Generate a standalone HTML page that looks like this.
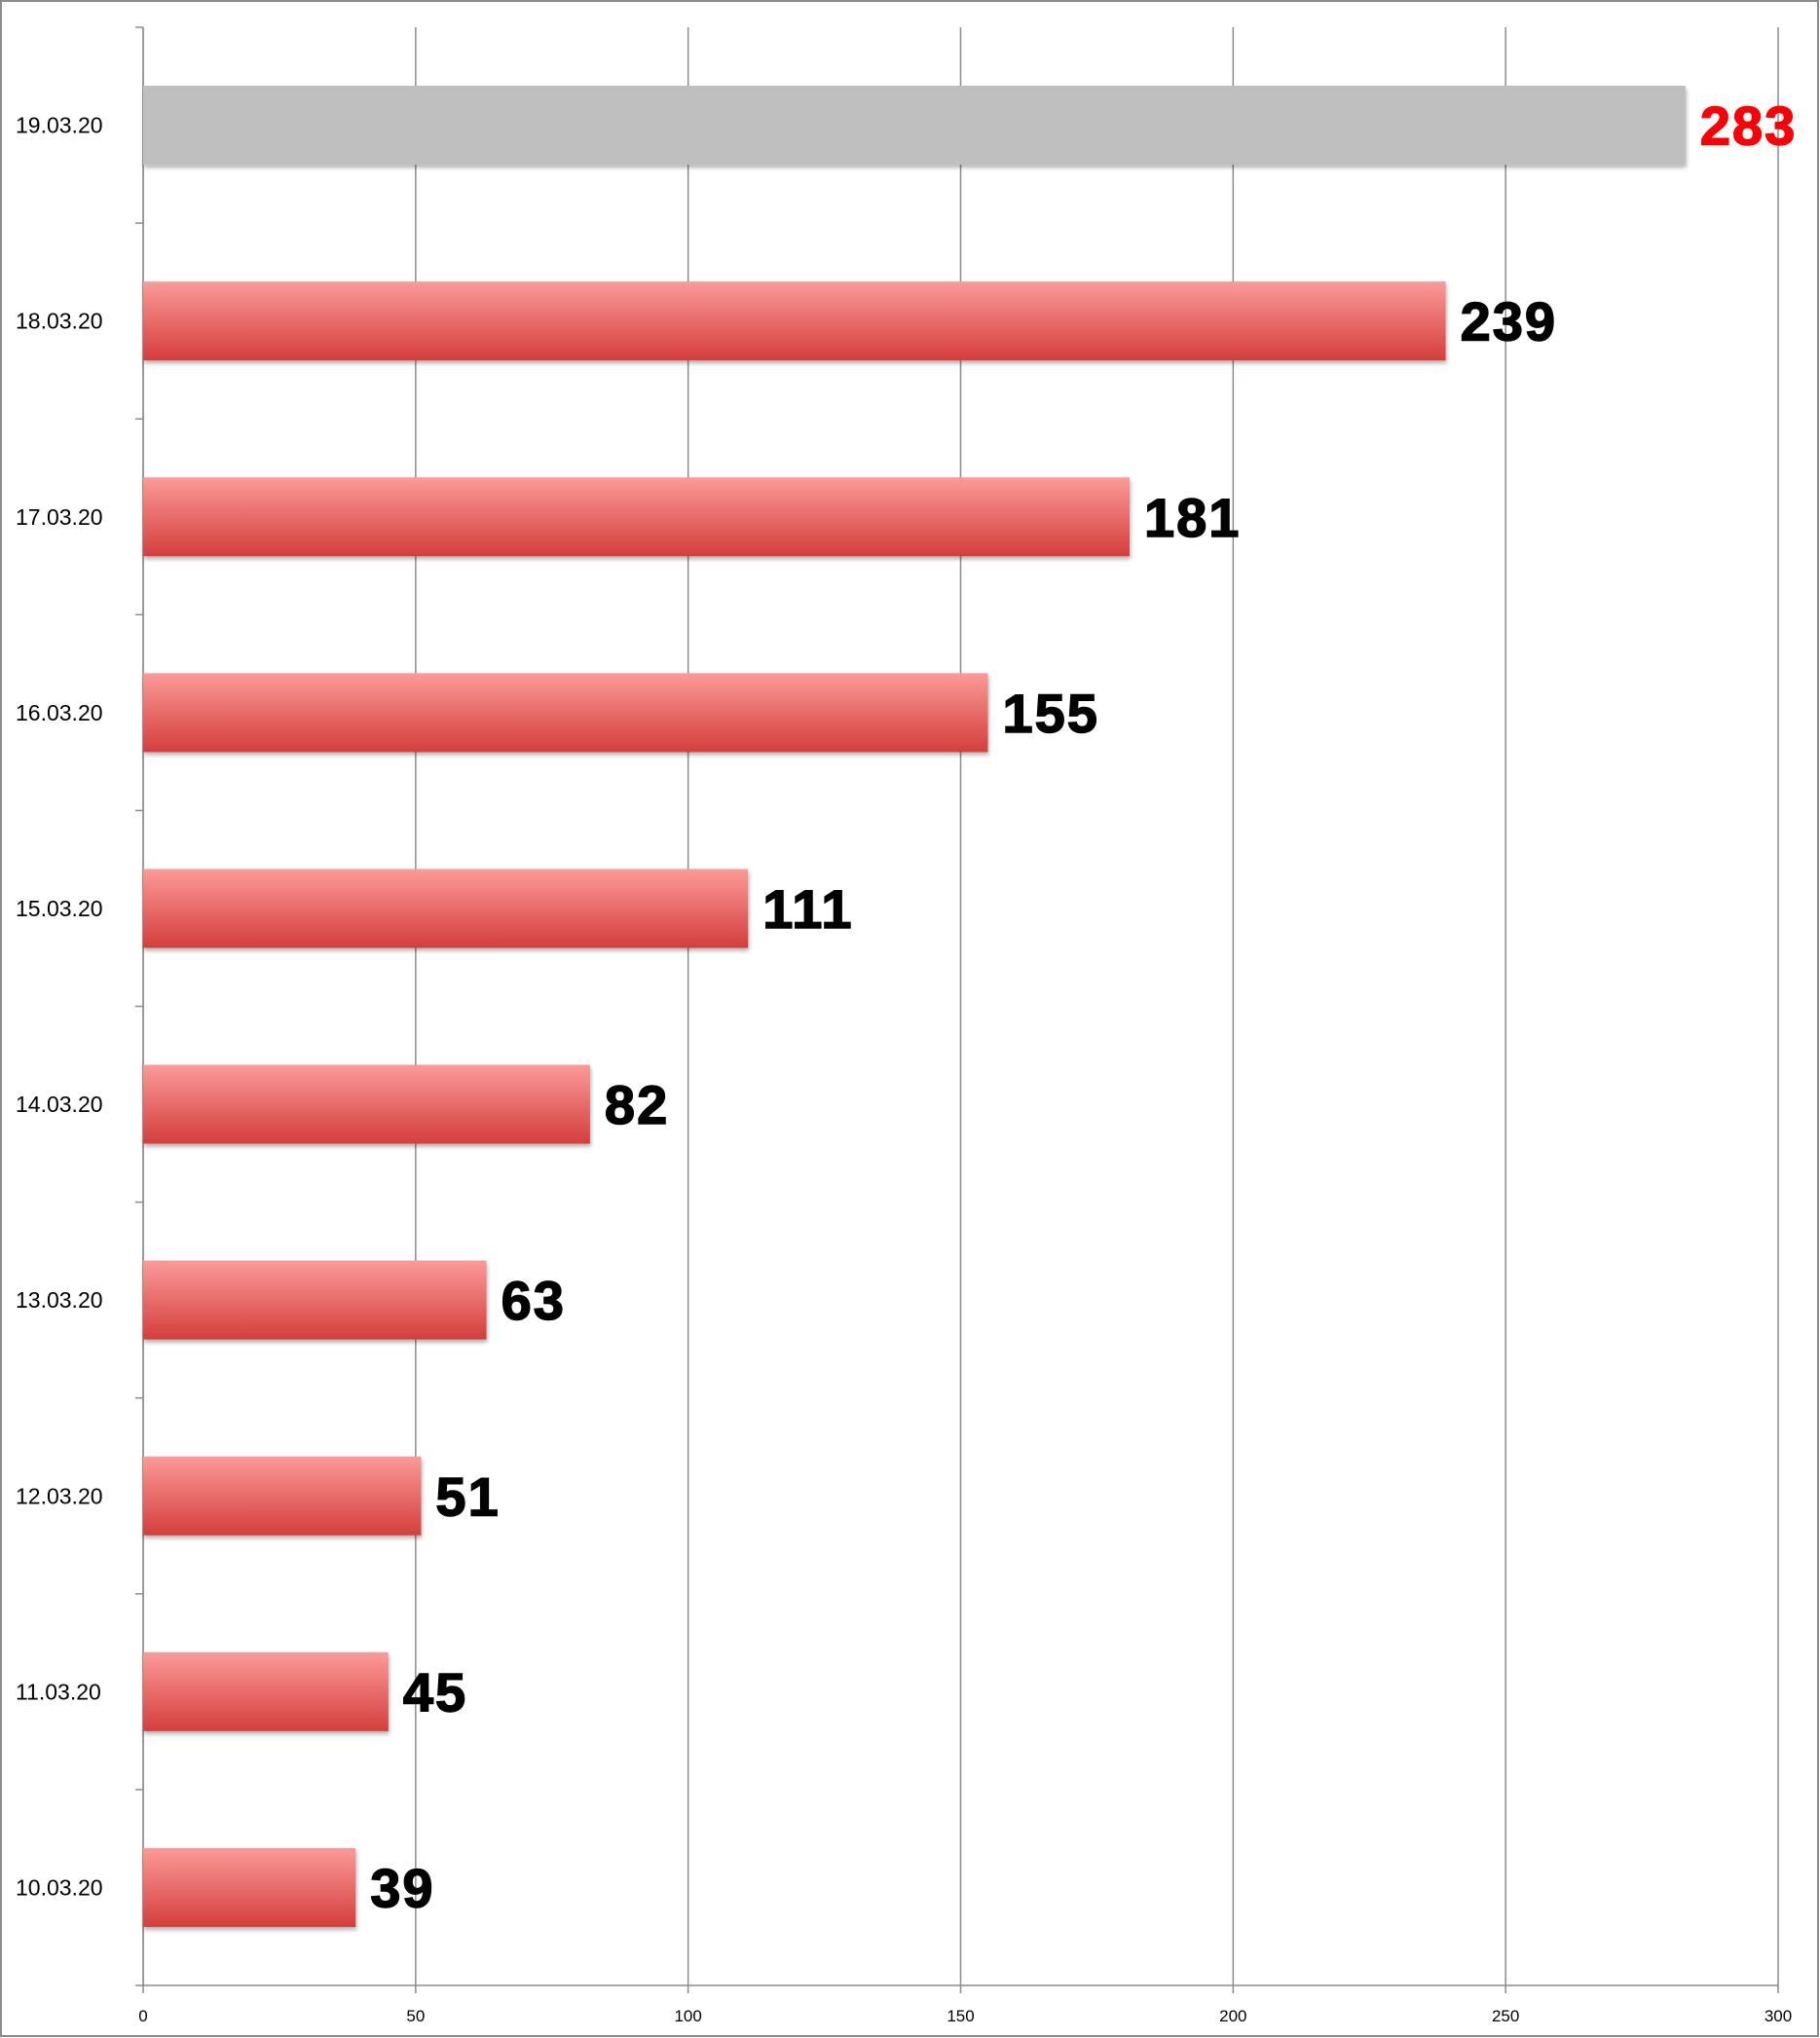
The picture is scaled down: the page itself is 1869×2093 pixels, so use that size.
<!DOCTYPE html>
<html><head><meta charset="utf-8"><style>
html,body{margin:0;padding:0;background:#fff}
svg{display:block}
</style></head><body>
<svg id="chart" width="1869" height="2093" viewBox="0 0 1869 2093" xmlns="http://www.w3.org/2000/svg">
<defs>
<linearGradient id="redg" x1="0" y1="0" x2="0" y2="1"><stop offset="0" stop-color="#fb9a98"/><stop offset="1" stop-color="#d43e3c"/></linearGradient>
<filter id="sh" x="-5%" y="-10%" width="110%" height="130%"><feDropShadow dx="1" dy="3" stdDeviation="2" flood-color="#000" flood-opacity="0.3"/></filter>
</defs>
<rect x="1" y="1" width="1866" height="2090" fill="#fff" stroke="#8c8c8c" stroke-width="2"/>
<g id="grid"></g><g id="bars"></g><g id="labels"></g>
</svg>
<script>
const categories = ["19.03.20","18.03.20","17.03.20","16.03.20","15.03.20","14.03.20","13.03.20","12.03.20","11.03.20","10.03.20"];
const values = [283,239,181,155,111,82,63,51,45,39];
const xTicks = [0,50,100,150,200,250,300];
const NS="http://www.w3.org/2000/svg";
const X0=147,X1=1826,Y0=28,Y1=2039,XMAX=300;
const x=v=>X0+(v/XMAX)*(X1-X0);
const band=(Y1-Y0)/categories.length;
const y=i=>Y0+i*band;
function mk(tag,attrs,parent){const e=document.createElementNS(NS,tag);for(const k in attrs)e.setAttribute(k,attrs[k]);parent.appendChild(e);return e;}
const grid=document.getElementById('grid'),bars=document.getElementById('bars'),labels=document.getElementById('labels');
xTicks.forEach(t=>{
  const gl=mk('line',{x1:x(t),x2:x(t),y1:Y0,y2:Y1+8,stroke:'#8c8c8c','stroke-width':1.5},grid);
  
  
  const tl=mk('text',{x:x(t),y:Y1+37,'text-anchor':'middle','font-family':'Liberation Sans, sans-serif','font-size':17,fill:'#000'},labels);
  tl.textContent=t;
  
  
});
const ax=mk('line',{x1:X0,x2:X1,y1:Y1,y2:Y1,stroke:'#8c8c8c','stroke-width':1.5},grid);


const ay=mk('line',{x1:X0,x2:X0,y1:Y0,y2:Y1,stroke:'#8c8c8c','stroke-width':1.5},grid);


for(let i=0;i<=categories.length;i++){
  const tk=mk('line',{x1:X0-8,x2:X0,y1:y(i),y2:y(i),stroke:'#8c8c8c','stroke-width':1.5},grid);
  
  
}
const bh=81;
categories.forEach((c,i)=>{
  const cy=y(i)+band/2;
  const r=mk('rect',{x:X0,y:cy-bh/2,width:x(values[i])-X0,height:bh,fill:i===0?'#bfbfbf':'url(#redg)',filter:'url(#sh)'},bars);
  
  
  const cl=mk('text',{x:16,y:cy+8,'font-family':'Liberation Sans, sans-serif','font-size':23,fill:'#000'},labels);
  cl.textContent=c;
  
  
  const col=i===0?'#fb0007':'#000';
  const vl=mk('text',{x:x(values[i])+15,y:cy+20,'font-family':'Liberation Sans, sans-serif','font-size':56,'font-weight':'bold',fill:col,stroke:col,'stroke-width':1.5,'letter-spacing':2},labels);
  vl.textContent=values[i];
  
  
});
</script>
</body></html>
